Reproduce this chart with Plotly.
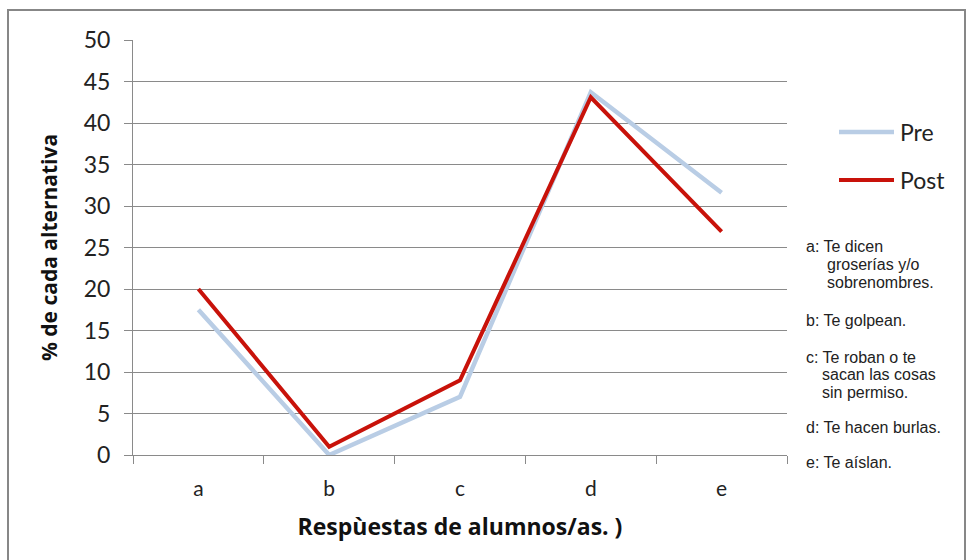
import plotly.graph_objects as go

# Response categories and percentage of each alternative
categories = ["a", "b", "c", "d", "e"]
pre_values = [17.5, 0.0, 7.0, 43.7, 31.6]
post_values = [20.0, 1.0, 9.0, 43.1, 26.9]
y_ticks = [0, 5, 10, 15, 20, 25, 30, 35, 40, 45, 50]

series = [
    ("Pre", pre_values, "#B9CDE5", 4.5),
    ("Post", post_values, "#C8120A", 4),
]

# Key describing each response letter (one entry per text line)
key_lines = [
    ("a: Te dicen", 0, 247),
    ("groserías y/o", 21, 264),
    ("sobrenombres.", 21, 282),
    ("b: Te golpean.", 0, 320),
    ("c: Te roban o te", 0, 357),
    ("sacan las cosas", 16, 374),
    ("sin permiso.", 16, 392),
    ("d: Te hacen burlas.", 0, 427),
    ("e: Te aíslan.", 0, 463),
]

# Plot-area geometry in pixels (used to place decorations in paper units)
L, R, T, B = 133, 787, 40, 455
W, H = R - L, B - T


def px(x):
    return (x - L) / W


def py(y):
    return (B - y) / H


fig = go.Figure()
for name, vals, color, width in series:
    fig.add_trace(go.Scatter(
        x=categories, y=vals, name=name, mode="lines",
        line=dict(color=color, width=width),
        showlegend=False,
    ))

shapes = [
    # outer chart border
    dict(type="rect", xref="paper", yref="paper",
         x0=px(8), x1=px(965), y0=py(575), y1=py(10),
         line=dict(color="#878787", width=2), layer="below"),
]
annotations = []

# Legend drawn beside the plot
legend_y = [132, 180]
for (name, vals, color, width), ly in zip(series, legend_y):
    shapes.append(dict(type="line", xref="paper", yref="paper",
                       x0=px(839), x1=px(894), y0=py(ly), y1=py(ly),
                       line=dict(color=color, width=width)))
    annotations.append(dict(text=name, xref="paper", yref="paper",
                            x=px(898), y=py(ly), xanchor="left", yanchor="middle",
                            showarrow=False,
                            font=dict(family="Lato", size=23, color="#222")))

for text, indent, ly in key_lines:
    annotations.append(dict(text=text, xref="paper", yref="paper",
                            x=px(804 + indent), y=py(ly), xanchor="left",
                            yanchor="middle", showarrow=False,
                            font=dict(family="Liberation Sans", size=16,
                                      color="#222")))

fig.update_layout(
    width=969, height=560,
    margin=dict(l=L, r=969 - R, t=T, b=560 - B),
    paper_bgcolor="white", plot_bgcolor="white",
    shapes=shapes, annotations=annotations,
    xaxis=dict(
        type="category", range=[-0.5, 4.5], tickson="boundaries",
        ticks="outside", ticklen=8, tickcolor="#8a8a8a", tickwidth=1,
        ticklabelstandoff=15,
        showgrid=False, showline=True, linecolor="#8a8a8a", linewidth=1,
        tickfont=dict(family="Lato", size=21, color="#222"),
        title=dict(text="<b>Respùestas de alumnos/as. )</b>", standoff=19,
                   font=dict(family="Open Sans", size=23, color="#111")),
    ),
    yaxis=dict(
        range=[0, 50], tickvals=y_ticks,
        ticks="outside", ticklen=8, tickcolor="#8a8a8a", tickwidth=1,
        ticklabelstandoff=9,
        showgrid=True, gridcolor="#8a8a8a", gridwidth=1,
        showline=True, linecolor="#8a8a8a", linewidth=1, zeroline=False,
        tickfont=dict(family="Lato", size=23, color="#222"),
        title=dict(text="<b>% de cada alternativa</b>", standoff=20,
                   font=dict(family="Open Sans", size=21, color="#111")),
    ),
)

fig.write_html("out.html")
